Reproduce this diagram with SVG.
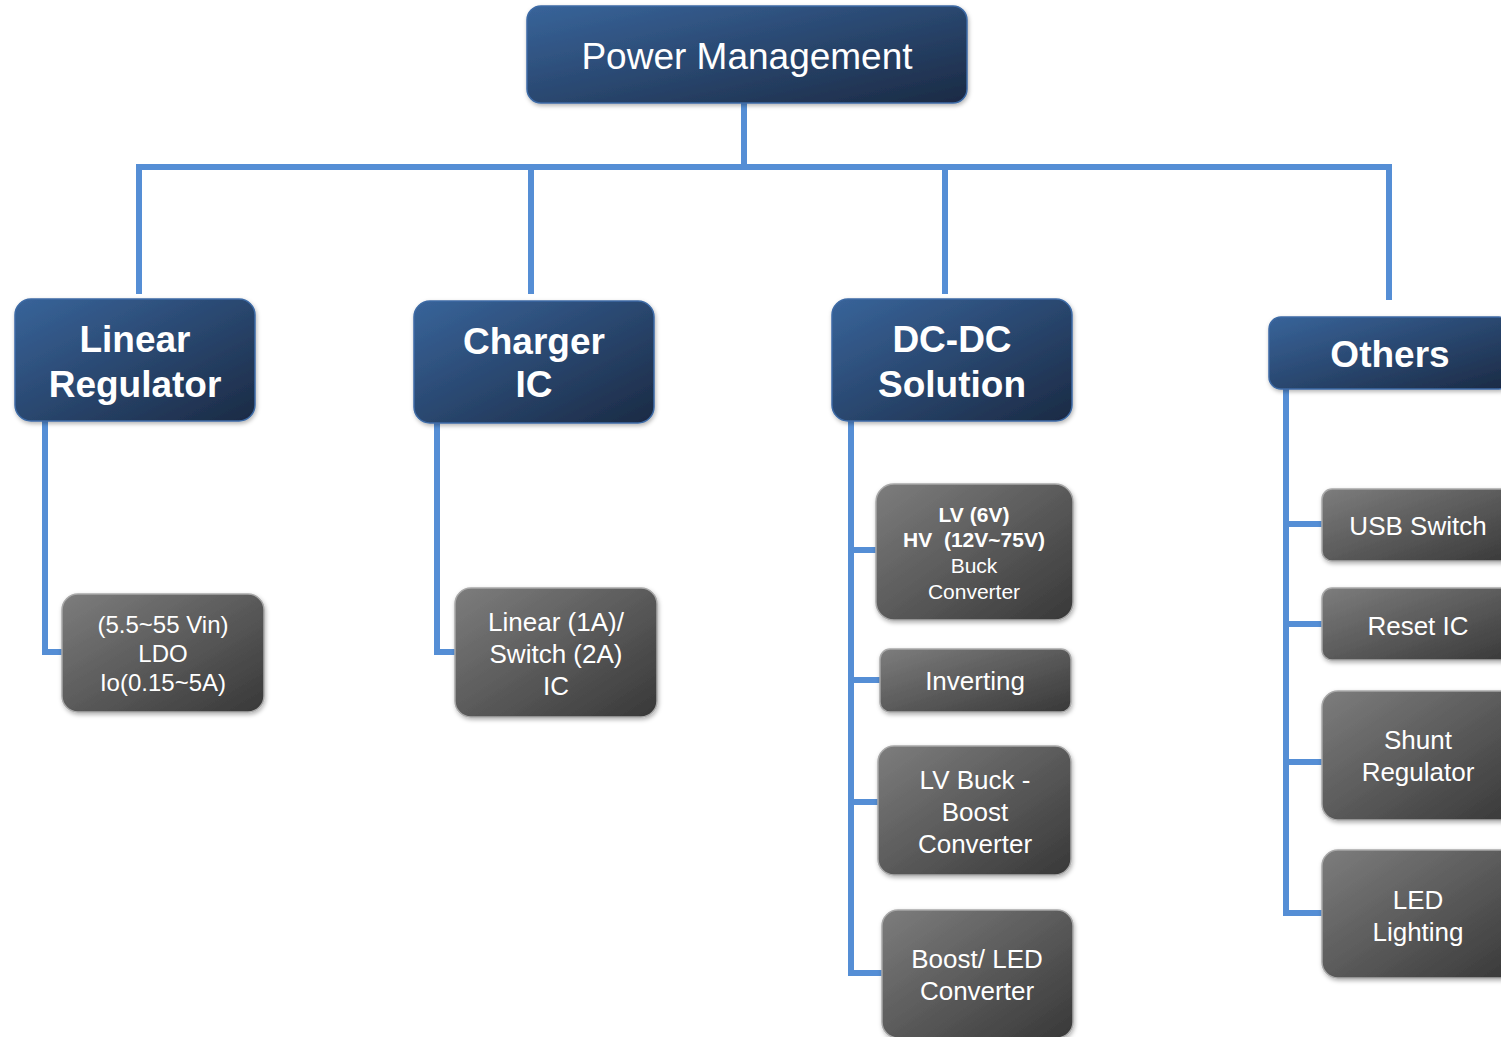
<svg xmlns="http://www.w3.org/2000/svg" width="1501" height="1037" viewBox="0 0 1501 1037">
<defs>
<linearGradient id="gb" x1="0" y1="0" x2="1" y2="1">
<stop offset="0" stop-color="#38649a"/>
<stop offset="1" stop-color="#1b2a44"/>
</linearGradient>
<linearGradient id="gg" x1="0" y1="0" x2="1" y2="1">
<stop offset="0" stop-color="#7d7d7d"/>
<stop offset="1" stop-color="#383838"/>
</linearGradient>
<filter id="sh" x="-10%" y="-10%" width="120%" height="125%">
<feDropShadow dx="1" dy="2" stdDeviation="2" flood-color="#000" flood-opacity="0.3"/>
</filter>
</defs>
<style>
.b{fill:url(#gb);stroke:#3d6aa5;stroke-width:1.5;filter:url(#sh)}
.g{fill:url(#gg);stroke:#a8a8a8;stroke-width:1.5;filter:url(#sh)}
.t{font-family:"Liberation Sans",Arial,sans-serif;fill:#fff;text-anchor:middle}
.h{font-size:37px;font-weight:bold}
.c{font-size:26px}
.s{font-size:21px}
.cn{stroke:#558ed5;stroke-width:6;fill:none}
</style>
<rect width="1501" height="1037" fill="#fff"/>
<g id="connectors">
<path class="cn" d="M744 103V167M136 167H1392M139 167V294M531 167V294M945 167V294M1389 167V300"/>
<path class="cn" d="M45 421V652H62"/>
<path class="cn" d="M437 423V652H455"/>
<path class="cn" d="M851 421V973H882M851 550H876M851 680H880M851 802H878"/>
<path class="cn" d="M1286 389V913H1322M1286 524H1322M1286 624H1322M1286 762H1322"/>
</g>
<g id="power-management">
<rect class="b" x="527" y="6" width="440" height="97" rx="14"/>
<text class="t" x="747" y="69" font-size="37">Power Management</text>
</g>
<g id="linear-regulator">
<rect class="b" x="15" y="299" width="240" height="122" rx="16"/>
<text class="t h" x="135" y="352">Linear</text>
<text class="t h" x="135" y="397">Regulator</text>
</g>
<g id="charger-ic">
<rect class="b" x="414" y="301" width="240" height="122" rx="16"/>
<text class="t h" x="534" y="354">Charger</text>
<text class="t h" x="534" y="397">IC</text>
</g>
<g id="dc-dc">
<rect class="b" x="832" y="299" width="240" height="122" rx="16"/>
<text class="t h" x="952" y="352">DC-DC</text>
<text class="t h" x="952" y="397">Solution</text>
</g>
<g id="others">
<rect class="b" x="1269" y="317" width="242" height="72" rx="12"/>
<text class="t h" x="1390" y="367">Others</text>
</g>
<g id="ldo">
<rect class="g" x="62" y="594" width="202" height="118" rx="16"/>
<text class="t" x="163" y="633" font-size="24">(5.5~55 Vin)</text>
<text class="t" x="163" y="662" font-size="24">LDO</text>
<text class="t" x="163" y="691" font-size="24">Io(0.15~5A)</text>
</g>
<g id="charger-child">
<rect class="g" x="455" y="588" width="202" height="129" rx="16"/>
<text class="t c" x="556" y="631">Linear (1A)/</text>
<text class="t c" x="556" y="663">Switch (2A)</text>
<text class="t c" x="556" y="695">IC</text>
</g>
<g id="buck">
<rect class="g" x="876" y="484" width="197" height="136" rx="18"/>
<text class="t s" x="974" y="522" font-weight="bold">LV (6V)</text>
<text class="t s" x="974" y="547" font-weight="bold" xml:space="preserve">HV  (12V~75V)</text>
<text class="t s" x="974" y="573">Buck</text>
<text class="t s" x="974" y="599">Converter</text>
</g>
<g id="inverting">
<rect class="g" x="880" y="649" width="191" height="63" rx="10"/>
<text class="t c" x="975" y="690">Inverting</text>
</g>
<g id="buck-boost">
<rect class="g" x="878" y="746" width="193" height="129" rx="16"/>
<text class="t c" x="975" y="789">LV Buck -</text>
<text class="t c" x="975" y="821">Boost</text>
<text class="t c" x="975" y="853">Converter</text>
</g>
<g id="boost-led">
<rect class="g" x="882" y="910" width="191" height="128" rx="16"/>
<text class="t c" x="977" y="968">Boost/ LED</text>
<text class="t c" x="977" y="1000">Converter</text>
</g>
<g id="usb-switch">
<rect class="g" x="1322" y="489" width="195" height="72" rx="10"/>
<text class="t c" x="1418" y="535">USB Switch</text>
</g>
<g id="reset-ic">
<rect class="g" x="1322" y="588" width="195" height="72" rx="10"/>
<text class="t c" x="1418" y="635">Reset IC</text>
</g>
<g id="shunt">
<rect class="g" x="1322" y="691" width="195" height="129" rx="16"/>
<text class="t c" x="1418" y="749">Shunt</text>
<text class="t c" x="1418" y="781">Regulator</text>
</g>
<g id="led-lighting">
<rect class="g" x="1322" y="850" width="195" height="128" rx="16"/>
<text class="t c" x="1418" y="909">LED</text>
<text class="t c" x="1418" y="941">Lighting</text>
</g>
</svg>
